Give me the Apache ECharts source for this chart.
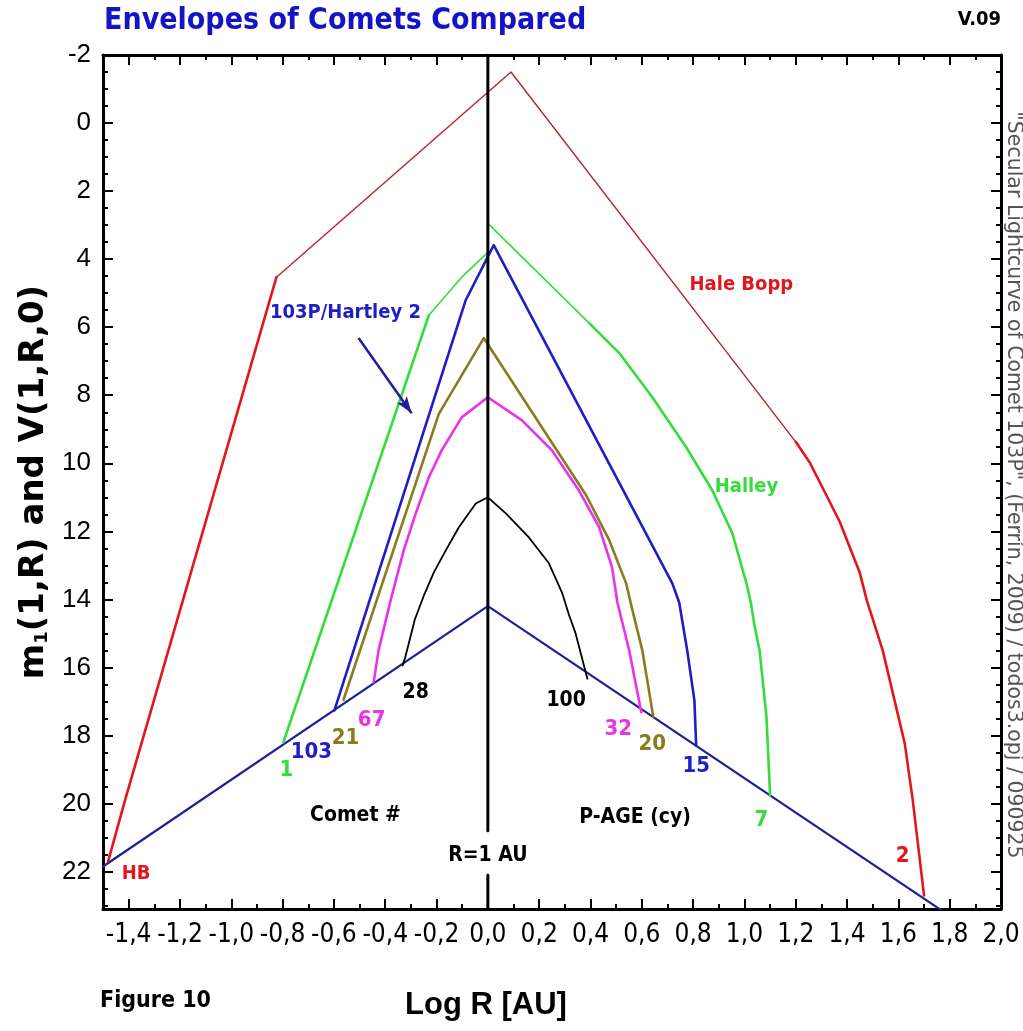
<!DOCTYPE html>
<html>
<head>
<meta charset="utf-8">
<title>Envelopes of Comets Compared</title>
<script src="https://cdn.jsdelivr.net/npm/echarts@6/dist/echarts.min.js"></script>
<style>
  html, body { margin: 0; padding: 0; background: #fff; }
  #chart { width: 1023px; height: 1031px; }
</style>
</head>
<body>
<div id="chart"></div>
<script>
// ---- Data: log R [AU] versus absolute magnitude (y grows downward) ----

// Tick labels
const xMajorTicks = [-1.4, -1.2, -1.0, -0.8, -0.6, -0.4, -0.2, 0.0, 0.2, 0.4, 0.6, 0.8, 1.0, 1.2, 1.4, 1.6, 1.8, 2.0];
const yMajorTicks = [-2, 0, 2, 4, 6, 8, 10, 12, 14, 16, 18, 20, 22];

// Nucleus line V(1,R,0)
const nucleusLine = [[-1.5, 21.85], [0, 14.2], [1.78, 23.2]];

// Hale Bopp envelope (thin upper section and heavy outer branches)
const haleBoppTop = [[-0.824, 4.53], [0.09, -1.5], [1.2, 9.37]];
const haleBoppLeft = [[-1.48, 21.7], [-1.414, 19.9], [-0.824, 4.53]];
const haleBoppRight = [[1.2, 9.37], [1.254, 9.97], [1.31, 10.8], [1.371, 11.71], [1.449, 13.2], [1.477, 14.03],
  [1.539, 15.5], [1.625, 18.24], [1.656, 19.9], [1.70, 22.7]];

// Halley envelope
const halleyTop = [[-0.23, 5.65], [-0.102, 4.53], [0, 3.8], [0, 2.95], [0.395, 5.88]];
const halleyLeft = [[-0.797, 18.2], [-0.23, 5.65]];
const halleyRight = [[0.395, 5.88], [0.512, 6.76], [0.641, 8.06], [0.773, 9.53], [0.875, 10.8], [0.953, 12.06],
  [1.008, 13.53], [1.025, 14.1], [1.04, 14.8], [1.059, 15.5], [1.086, 17.47], [1.10, 19.76]];

// 103P/Hartley 2
const hartley2 = [[-0.598, 17.26], [-0.086, 5.2], [0.023, 3.59], [0.719, 13.53], [0.746, 14.1], [0.777, 15.5],
  [0.805, 16.97], [0.812, 18.3]];

// Comet 21 / P-AGE 20
const comet21 = [[-0.5625, 16.95], [-0.191, 8.55], [-0.016, 6.32], [0.383, 10.94], [0.473, 12.26], [0.539, 13.53],
  [0.563, 14.3], [0.602, 15.5], [0.645, 17.46]];

// Comet 67 / P-AGE 32
const comet67 = [[-0.445, 16.44], [-0.426, 15.5], [-0.379, 14.03], [-0.328, 12.56], [-0.281, 11.47], [-0.23, 10.41],
  [-0.18, 9.62], [-0.102, 8.65], [0, 8.06], [0.133, 8.74], [0.25, 9.62], [0.355, 10.8], [0.434, 11.88],
  [0.484, 13.06], [0.505, 14.1], [0.551, 15.5], [0.598, 17.32]];

// Comet 28 / P-AGE 100
const comet28 = [[-0.332, 15.94], [-0.322, 15.7], [-0.305, 15.2], [-0.285, 14.6], [-0.25, 13.9], [-0.21, 13.2],
  [-0.164, 12.56], [-0.113, 11.88], [-0.047, 11.18], [0, 11.0], [0.07, 11.47], [0.16, 12.18], [0.238, 12.94],
  [0.289, 13.8], [0.316, 14.45], [0.342, 15.0], [0.388, 16.33]];

// R = 1 AU line
const oneAU = [[0, -2], [0, 20.8], null, [0, 22.1], [0, 23.1]];

// ---- Drawing ----
const NARROW = '"Liberation Sans Narrow", "Arial Narrow", "DejaVu Sans Condensed", "Roboto Condensed", "Liberation Sans", sans-serif';
const REGULAR = '"Liberation Sans", Arial, sans-serif';
const WIDE = '"DejaVu Sans", Verdana, sans-serif';

const C = {
  red: '#e3161c', redThin: '#b3262b', green: '#35dd3a', blue: '#1e1ec4', olive: '#8a7c1e',
  magenta: '#e833e8', black: '#000000', navy: '#1f1f98', title: '#1414c6'
};

const fmtComma = v => (Math.abs(v) < 1e-9 ? 0 : v).toFixed(1).replace('.', ',');

function range(a, b, step, skip) {
  const out = [];
  for (let v = a; v <= b + 1e-9; v += step) {
    const r = Math.round(v * 100) / 100;
    if (!skip(r)) out.push(r);
  }
  return out;
}
const xMinorTicks = range(-1.5, 2.0, 0.1, r => xMajorTicks.some(t => Math.abs(t - r) < 1e-6));
const yMinorTicks = range(-2, 23, 0.5, r => yMajorTicks.includes(r));

const X_MIN = -1.5, X_MAX = 2.0, Y_MIN = -2, Y_MAX = 23.1;
const frame = { color: '#000', width: 3 };

function xAxisDef(position, ticks, len, withLabels, withLine) {
  return {
    type: 'value', position, min: X_MIN, max: X_MAX,
    axisLine: { show: withLine, onZero: false, lineStyle: frame },
    axisTick: { show: true, inside: true, length: len, customValues: ticks, lineStyle: { color: '#000', width: 2 } },
    axisLabel: withLabels ? {
      show: true, customValues: ticks, formatter: fmtComma, margin: 13,
      fontFamily: NARROW, fontSize: 26, color: '#000'
    } : { show: false },
    splitLine: { show: false }
  };
}
function yAxisDef(position, ticks, len, withLabels, withLine) {
  return {
    type: 'value', position, inverse: true, min: Y_MIN, max: Y_MAX,
    axisLine: { show: withLine, onZero: false, lineStyle: frame },
    axisTick: { show: true, inside: true, length: len, customValues: ticks, lineStyle: { color: '#000', width: 2 } },
    axisLabel: withLabels ? {
      show: true, customValues: ticks, margin: 12, fontFamily: REGULAR, fontSize: 26, color: '#000'
    } : { show: false },
    splitLine: { show: false }
  };
}

const yLeft = yAxisDef('left', yMajorTicks, 10, true, true);
yLeft.name = '{a|m}{s|1}{a|(1,R) and V(1,R,0)}';
yLeft.nameLocation = 'middle';
yLeft.nameRotate = 90;
yLeft.nameGap = 46;
yLeft.nameTextStyle = {
  rich: {
    a: { fontFamily: WIDE, fontWeight: 'bold', fontSize: 34, color: '#000', lineHeight: 38 },
    s: { fontFamily: WIDE, fontWeight: 'bold', fontSize: 18, color: '#000', lineHeight: 38, padding: [17, 0, 0, 0] }
  }
};

function line(name, data, color, width, z) {
  return {
    type: 'line', name, data, symbol: 'none', showSymbol: false, smooth: false, clip: true,
    connectNulls: false, silent: true, z: z || 2,
    lineStyle: { color, width, join: 'round', cap: 'round' }
  };
}

// Text labels placed in data coordinates
const notes = [
  { t: 'HB', x: -1.371, y: 22.06, c: C.red, s: 20 },
  { t: '1', x: -0.785, y: 19.03, c: C.green, s: 22 },
  { t: '103', x: -0.6875, y: 18.5, c: C.blue, s: 22 },
  { t: '21', x: -0.555, y: 18.09, c: C.olive, s: 22 },
  { t: '67', x: -0.453, y: 17.56, c: C.magenta, s: 22 },
  { t: '28', x: -0.281, y: 16.74, c: C.black, s: 21 },
  { t: 'Comet #', x: -0.516, y: 20.35, c: C.black, s: 21 },
  { t: 'R=1 AU', x: 0, y: 21.53, c: C.black, s: 21 },
  { t: '100', x: 0.305, y: 16.97, c: C.black, s: 21 },
  { t: '32', x: 0.508, y: 17.82, c: C.magenta, s: 22 },
  { t: '20', x: 0.641, y: 18.26, c: C.olive, s: 22 },
  { t: '15', x: 0.8125, y: 18.91, c: C.blue, s: 22 },
  { t: '7', x: 1.066, y: 20.5, c: C.green, s: 22 },
  { t: 'P-AGE (cy)', x: 0.574, y: 20.41, c: C.black, s: 21 },
  { t: '2', x: 1.617, y: 21.56, c: C.red, s: 22 },
  { t: 'Hale Bopp', x: 0.988, y: 4.74, c: C.red, s: 20 },
  { t: 'Halley', x: 1.008, y: 10.7, c: C.green, s: 20 },
  { t: '103P/Hartley 2', x: -0.555, y: 5.59, c: C.blue, s: 20 }
];

const hartleySeries = line('103P/Hartley 2', hartley2, C.blue, 2.6, 4);
hartleySeries.markLine = {
  silent: true, symbol: ['none', 'arrow'], symbolSize: [9, 17], animation: false,
  label: { show: false },
  lineStyle: { color: C.navy, width: 2.5, type: 'solid', opacity: 1 },
  data: [[{ coord: [-0.504, 6.32] }, { coord: [-0.297, 8.53] }]]
};

const option = {
  animation: false,
  backgroundColor: '#ffffff',
  grid: { left: 103, right: 22, top: 55, bottom: 122, containLabel: false, outerBoundsMode: 'none' },
  xAxis: [
    xAxisDef('bottom', xMajorTicks, 10, true, true),
    xAxisDef('bottom', xMinorTicks, 5, false, false),
    xAxisDef('top', xMajorTicks, 10, false, true),
    xAxisDef('top', xMinorTicks, 5, false, false)
  ],
  yAxis: [
    yLeft,
    yAxisDef('left', yMinorTicks, 5, false, false),
    yAxisDef('right', yMajorTicks, 10, false, true),
    yAxisDef('right', yMinorTicks, 5, false, false)
  ],
  series: [
    line('V(1,R,0)', nucleusLine, C.navy, 2.2, 2),
    line('Hale Bopp', haleBoppTop, C.redThin, 1.4, 3),
    line('Hale Bopp', haleBoppLeft, C.red, 2.6, 3),
    line('Hale Bopp', haleBoppRight, C.red, 2.6, 3),
    line('Halley', halleyTop, C.green, 1.6, 3),
    line('Halley', halleyLeft, C.green, 2.6, 3),
    line('Halley', halleyRight, C.green, 2.6, 3),
    hartleySeries,
    line('21 / 20', comet21, C.olive, 2.6, 4),
    line('67 / 32', comet67, C.magenta, 2.6, 4),
    line('28 / 100', comet28, C.black, 1.8, 4),
    line('R=1 AU', oneAU, '#000', 3, 6),
    {
      type: 'scatter', silent: true, symbolSize: 0, z: 7,
      itemStyle: { opacity: 1 },
      data: notes.map(n => ({
        value: [n.x, n.y],
        label: {
          show: true, position: 'inside', formatter: n.t, color: n.c, fontSize: n.s, opacity: 1,
          textBorderWidth: 0, fontWeight: 'bold', fontFamily: NARROW, align: 'center', verticalAlign: 'middle'
        }
      }))
    }
  ],
  graphic: [
    { type: 'text', left: 104, top: 6, style: { text: 'Envelopes of Comets Compared', fill: C.title, font: 'bold 30px ' + NARROW } },
    { type: 'text', right: 22, top: 10, style: { text: 'V.09', fill: '#000', font: 'bold 20px ' + NARROW } },
    { type: 'text', left: 100, top: 990, style: { text: 'Figure 10', fill: '#000', font: 'bold 23px ' + NARROW } },
    { type: 'text', x: 486, y: 1005, style: { text: 'Log R [AU]', fill: '#000', font: 'bold 31px ' + REGULAR, align: 'center', verticalAlign: 'middle' } },
    {
      type: 'text', x: 1013, y: 485, rotation: -Math.PI / 2,
      style: {
        text: '"Secular Lightcurve of Comet 103P", (Ferrín, 2009) / todos3.opj / 090925',
        fill: '#555', font: '20.5px ' + WIDE, align: 'center', verticalAlign: 'middle'
      }
    }
  ]
};

const chart = echarts.init(document.getElementById('chart'), null, { renderer: 'canvas', width: 1023, height: 1031 });
chart.setOption(option);
</script>
</body>
</html>
